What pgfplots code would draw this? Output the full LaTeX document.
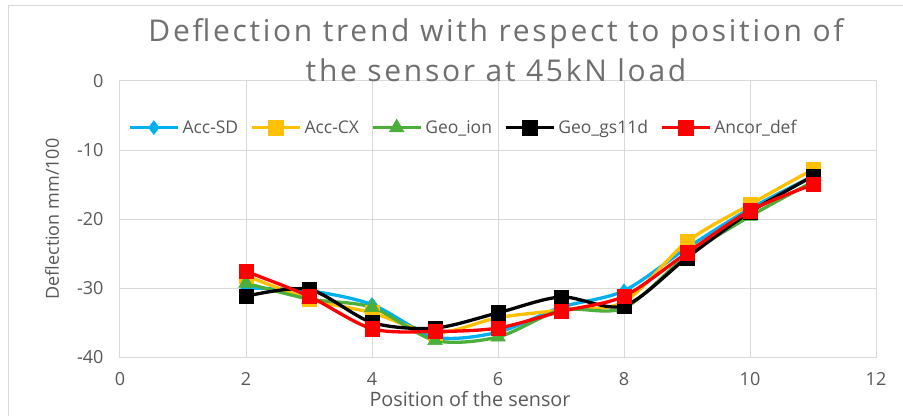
\documentclass[border=0pt]{standalone}
\usepackage{pgfplots}
\pgfplotsset{compat=1.18}
\usepackage{fontspec}
\setmainfont{Open Sans}
\newfontfamily\titlefont[LetterSpace=9]{Open Sans}
\definecolor{cblue}{HTML}{00B0F0}
\definecolor{cyellow}{HTML}{FFC000}
\definecolor{cgreen}{HTML}{4CAF3C}
\definecolor{cred}{HTML}{FF0000}
\definecolor{tgray}{HTML}{595959}
\definecolor{ttgray}{HTML}{707070}
\definecolor{ggray}{HTML}{D9D9D9}
\begin{document}
\begin{tikzpicture}
\path[use as bounding box] (-120bp,-59bp) rectangle (783bp,357bp);
\fill[white] (-120bp,-59bp) rectangle (783bp,357bp);
\draw[ggray, line width=1bp] (-111bp,-80bp) rectangle (800bp,351bp);
\begin{axis}[
  at={(0,0)}, anchor=south west,
  scale only axis, width=756bp, height=276bp,
  xmin=0, xmax=12, ymin=-40, ymax=0,
  xtick={0,2,...,12}, ytick={-40,-30,...,0},
  grid=major, grid style={ggray, line width=1bp},
  axis line style={ggray, line width=1bp},
  major tick length=0pt,
  /pgf/number format/assume math mode=true,
  tick label style={font=\fontsize{18bp}{21bp}\selectfont, text=tgray},
  yticklabel style={xshift=-13bp},
  xticklabel style={yshift=-12bp},
  xlabel={Position of the sensor},
  xlabel style={at={(axis description cs:0.463,0)}, anchor=base, yshift=-49bp, font=\fontsize{19.8bp}{22bp}\selectfont, text=tgray},
  ylabel={Deflection mm/100},
  ylabel style={at={(axis description cs:-0.09,0.5)}, anchor=center, font=\fontsize{18bp}{21bp}\selectfont, text=tgray},
  legend columns=-1,
  legend style={at={(axis description cs:0.0106,0.833)}, anchor=west, draw=none, fill=none, inner sep=0pt,
    font=\fontsize{17.5bp}{21bp}\selectfont, text=tgray,
    nodes={inner sep=0pt},
    /tikz/every odd column/.append style={column sep=3bp},
    /tikz/every even column/.append style={column sep=12bp}},
  legend cell align=left,
  legend image code/.code={\draw[mark repeat=2,mark phase=2,#1] plot coordinates {(0bp,0bp) (24bp,0bp) (48bp,0bp)};},
  every axis plot/.append style={line width=3.3bp, smooth, tension=0.5},
]
\addplot[cblue, mark=diamond*, mark size=7bp, mark options={solid, fill=cblue, line width=0.5bp}] coordinates {
(2,-30.0) (3,-30.4) (4,-32.4) (5,-37.1) (6,-36.4) (7,-32.8) (8,-30.4) (9,-24.2) (10,-18.5) (11,-13.8)};
\addlegendentry{Acc-SD}
\addplot[cyellow, mark=square*, mark size=7.2bp, mark options={solid, fill=cyellow, line width=0.5bp}] coordinates {
(2,-28.2) (3,-31.6) (4,-33.6) (5,-36.5) (6,-34.3) (7,-33.2) (8,-32.0) (9,-23.3) (10,-17.9) (11,-12.8)};
\addlegendentry{Acc-CX}
\addplot[cgreen, mark=triangle*, mark size=8.5bp, mark options={solid, fill=cgreen, line width=0.5bp}] coordinates {
(2,-29.3) (3,-31.6) (4,-32.8) (5,-37.6) (6,-37.1) (7,-33.2) (8,-32.9) (9,-25.3) (10,-19.6) (11,-14.6)};
\addlegendentry{Geo\_ion}
\addplot[black, mark=square*, mark size=7.2bp, mark options={solid, fill=black, line width=0.5bp}] coordinates {
(2,-31.2) (3,-30.2) (4,-35.0) (5,-35.8) (6,-33.6) (7,-31.3) (8,-32.6) (9,-25.6) (10,-19.0) (11,-13.8)};
\addlegendentry{Geo\_gs11d}
\addplot[cred, mark=square*, mark size=7.2bp, mark options={solid, fill=cred, line width=0.5bp}] coordinates {
(2,-27.6) (3,-31.2) (4,-35.9) (5,-36.3) (6,-35.8) (7,-33.4) (8,-31.2) (9,-24.9) (10,-18.8) (11,-15.0)};
\addlegendentry{Ancor\_def}
\end{axis}
\node[anchor=base, font=\titlefont\fontsize{30bp}{34bp}\selectfont, text=ttgray] at (376bp,315bp) {Deflection trend with respect to position of};
\node[anchor=base, font=\titlefont\fontsize{30bp}{34bp}\selectfont, text=ttgray] at (376bp,275bp) {the sensor at 45kN load};
\end{tikzpicture}
\end{document}
